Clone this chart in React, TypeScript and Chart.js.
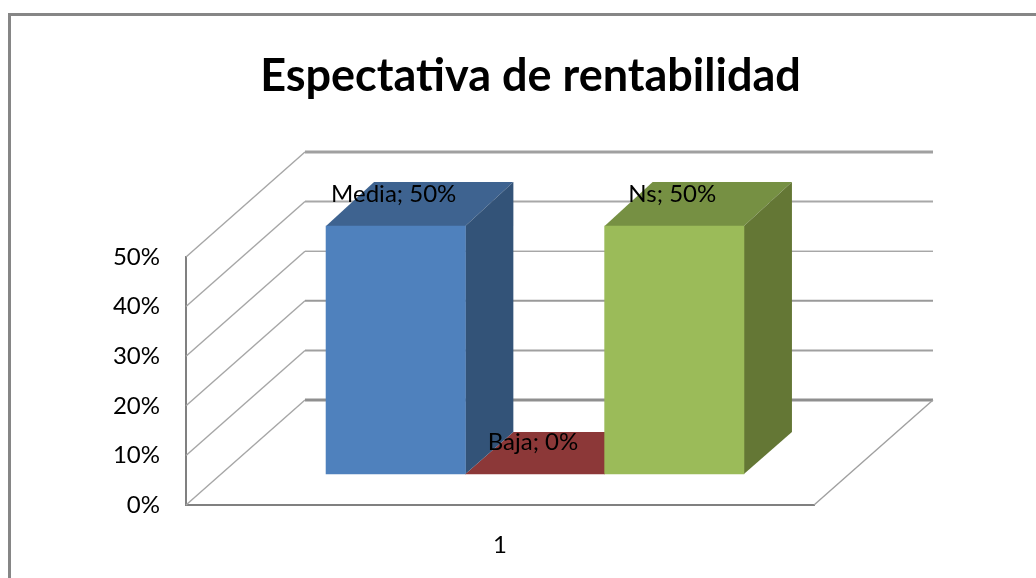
import React, { useEffect, useRef } from "react";
import { Chart, registerables } from "chart.js";

Chart.register(...registerables);

const categories = ["1"];
const seriesNames = ["Media", "Baja", "Ns"];
const mediaValues = [50];
const bajaValues = [0];
const nsValues = [50];
const titleText = "Espectativa de rentabilidad";

const frontColors = ["#4F81BD", "#8E3A3A", "#9BBB59"];
const topColors = ["#3E6390", "#8C3838", "#769043"];
const sideColors = ["#335378", "#6E2C2C", "#647735"];

const FONT = "Lato, 'Open Sans', sans-serif";
const WALL = { dx: 119, dy: -105 };
const SHIFT = { dx: 35, dy: -31 };
const DEPTH = { dx: 48, topDy: -44, baseDy: -42 };
const wallStyles = [
  { w: 3, c: "#8f8f8f" },
  { w: 2, c: "#a0a0a0" },
  { w: 2, c: "#9a9a9a" },
  { w: 1, c: "#808080" },
  { w: 2, c: "#a8a8a8" },
  { w: 3, c: "#a0a0a0" },
];

const poly = (ctx: CanvasRenderingContext2D, pts: number[][], fill: string) => {
  ctx.beginPath();
  pts.forEach(([x, y], i) => (i ? ctx.lineTo(x, y) : ctx.moveTo(x, y)));
  ctx.closePath();
  ctx.fillStyle = fill;
  ctx.fill();
};

const threeD = {
  id: "threeD",
  afterLayout(chart: any) {
    // The title is centred on the frame rather than on the plot.
    chart.titleBlock.left = 25;
    chart.titleBlock.right = 1036;
  },
  beforeDatasetsDraw(chart: any) {
    const { ctx, scales } = chart;
    const { x, y } = scales;
    const ticks = y.ticks.map((t: any) => y.getPixelForValue(t.value));
    ctx.save();
    // walls
    ticks.forEach((py: number, i: number) => {
      const s = wallStyles[i] || wallStyles[0];
      ctx.lineWidth = s.w;
      ctx.strokeStyle = s.c;
      ctx.beginPath();
      ctx.moveTo(x.left + WALL.dx, py + WALL.dy);
      ctx.lineTo(x.right + WALL.dx, py + WALL.dy);
      ctx.stroke();
      ctx.lineWidth = 1.4;
      ctx.strokeStyle = "#a6a6a6";
      ctx.beginPath();
      ctx.moveTo(x.left, py);
      ctx.lineTo(x.left + WALL.dx, py + WALL.dy);
      ctx.stroke();
    });
    const p0 = y.getPixelForValue(0);
    ctx.lineWidth = 1.4;
    ctx.strokeStyle = "#a0a0a0";
    ctx.beginPath();
    ctx.moveTo(x.right, p0);
    ctx.lineTo(x.right + WALL.dx, p0 + WALL.dy);
    ctx.stroke();
    // depth faces of the bars, back to front
    [1, 0, 2].forEach((i) => {
      const bar = chart.getDatasetMeta(i).data[0];
      const l = bar.x - bar.width / 2 + SHIFT.dx;
      const r = bar.x + bar.width / 2 + SHIFT.dx;
      const t = bar.y + SHIFT.dy;
      const b = bar.base + SHIFT.dy;
      const hasHeight = b - t > 0.5;
      const dyTop = hasHeight ? DEPTH.topDy : DEPTH.baseDy;
      poly(ctx, [[l, t], [r, t], [r + DEPTH.dx, t + dyTop], [l + DEPTH.dx, t + dyTop]], topColors[i]);
      if (hasHeight) {
        poly(ctx, [[r, t], [r + DEPTH.dx, t + dyTop], [r + DEPTH.dx, b + DEPTH.baseDy], [r, b]], sideColors[i]);
      }
    });
    ctx.restore();
    // the bars themselves sit forward of the walls
    ctx.save();
    ctx.translate(SHIFT.dx, SHIFT.dy);
  },
  afterDatasetsDraw(chart: any) {
    const { ctx } = chart;
    ctx.restore();
    ctx.save();
    ctx.font = `24px ${FONT}`;
    ctx.fillStyle = "#000000";
    ctx.textAlign = "center";
    ctx.textBaseline = "middle";
    chart.data.datasets.forEach((ds: any, i: number) => {
      const bar = chart.getDatasetMeta(i).data[0];
      ctx.fillText(`${ds.label}; ${ds.data[0]}%`, bar.x + SHIFT.dx - 2, bar.y + SHIFT.dy - 32);
    });
    ctx.restore();
  },
};

const frame = {
  id: "frame",
  beforeDraw(chart: any) {
    const { ctx } = chart;
    ctx.save();
    ctx.fillStyle = "#ffffff";
    ctx.fillRect(0, 0, 1036, 578);
    ctx.strokeStyle = "#868686";
    ctx.lineWidth = 3;
    ctx.beginPath();
    ctx.moveTo(9.5, 578);
    ctx.lineTo(9.5, 14.5);
    ctx.lineTo(1036, 14.5);
    ctx.stroke();
    ctx.restore();
  },
};

export default function App() {
  const ref = useRef<HTMLCanvasElement>(null);
  useEffect(() => {
    document.body.style.margin = "0";
    const seriesValues = [mediaValues, bajaValues, nsValues];
    const chart = new Chart(ref.current!, {
      type: "bar",
      data: {
        labels: categories,
        datasets: seriesNames.map((name, i) => ({
          label: name,
          data: seriesValues[i],
          backgroundColor: frontColors[i],
          borderWidth: 0,
          barThickness: 139.3,
          clip: false as any,
        })),
      },
      options: {
        responsive: false,
        animation: false,
        layout: { padding: { left: 0, right: 222, top: 0, bottom: 0 } },
        plugins: {
          legend: { display: false },
          tooltip: { enabled: false },
          title: {
            display: true,
            text: titleText,
            color: "#000000",
            font: { family: FONT, size: 45, weight: "bold" },
            padding: { top: 49, bottom: 154 },
          },
        },
        scales: {
          x: {
            grid: { display: false, drawTicks: false },
            border: { display: true, color: "#808080", width: 2 },
            ticks: { color: "#000000", font: { family: FONT, size: 24 }, padding: 26 },
            afterFit: (s: any) => { s.height = 73; },
          },
          y: {
            min: 0,
            max: 50,
            grid: { display: false, drawTicks: false },
            border: { display: true, color: "#808080", width: 2 },
            ticks: {
              stepSize: 10,
              color: "#000000",
              font: { family: FONT, size: 24 },
              padding: 26,
              callback: (v: any) => `${v}%`,
            },
            afterFit: (s: any) => { s.width = 186; },
          },
        },
      },
      plugins: [frame, threeD],
    } as any);
    return () => chart.destroy();
  }, []);
  return (
    <div style={{ position: "absolute", left: 0, top: 0, width: 1036, height: 578 }}>
      <canvas ref={ref} width={1036} height={578} style={{ display: "block" }} />
    </div>
  );
}
